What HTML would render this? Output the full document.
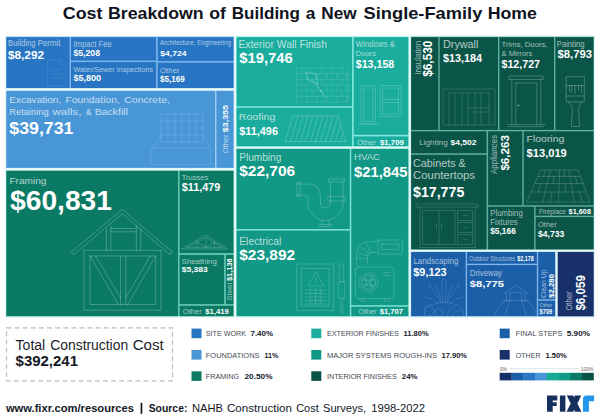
<!DOCTYPE html>
<html><head><meta charset="utf-8"><title>Cost Breakdown of Building a New Single-Family Home</title>
<style>html,body{margin:0;padding:0;background:#fff}body{width:600px;height:418px;overflow:hidden}svg{display:block}text{font-family:"Liberation Sans",sans-serif}</style></head><body>
<svg width="600" height="418" viewBox="0 0 600 418">
<rect width="600" height="418" fill="#ffffff"/>
<rect x="4.9" y="35.6" width="590.2" height="282.2" fill="#e3f8f7"/>
<rect x="6.0" y="36.6" width="227.8" height="51.6" fill="#7db8ee"/>
<rect x="6.0" y="90.7" width="227.8" height="77.3" fill="#a6d2f5"/>
<rect x="6.0" y="170.6" width="227.8" height="145.9" fill="#6fd0bd"/>
<rect x="236.3" y="36.6" width="172.3" height="110.0" fill="#86eadf"/>
<rect x="236.3" y="148.6" width="172.3" height="167.9" fill="#7fe0d2"/>
<rect x="410.9" y="36.6" width="183.0" height="213.0" fill="#62b09e"/>
<rect x="410.9" y="251.8" width="144.5" height="64.7" fill="#7fb4ea"/>
<rect x="557.6" y="251.8" width="36.3" height="64.7" fill="#6a86c0"/>
<rect x="6.4" y="37.2" width="63.2" height="50.8" fill="#2876c3"/>
<rect x="71" y="37.2" width="85.1" height="23.4" fill="#2876c3"/>
<rect x="71" y="62" width="85.1" height="26.0" fill="#2876c3"/>
<rect x="157.7" y="37.2" width="75.8" height="23.9" fill="#2876c3"/>
<rect x="157.7" y="62.6" width="75.8" height="25.4" fill="#2876c3"/>
<rect x="6.4" y="90.9" width="208.7" height="76.9" fill="#4996d7"/>
<rect x="216.4" y="90.9" width="17.1" height="76.9" fill="#4996d7"/>
<rect x="6.4" y="170.8" width="171.7" height="145.3" fill="#0a7a65"/>
<rect x="179.5" y="170.8" width="54.0" height="82.4" fill="#0a7a65"/>
<rect x="179.5" y="254.8" width="44.7" height="49.4" fill="#0a7a65"/>
<rect x="225.7" y="254.8" width="7.8" height="49.4" fill="#0a7a65"/>
<rect x="179.5" y="305.7" width="54.0" height="10.4" fill="#0a7a65"/>
<rect x="236.6" y="37.2" width="115.5" height="69.1" fill="#1aac9d"/>
<rect x="236.6" y="107.8" width="115.5" height="38.4" fill="#1aac9d"/>
<rect x="353.7" y="37.2" width="54.6" height="97.6" fill="#1aac9d"/>
<rect x="353.7" y="136.4" width="54.6" height="9.8" fill="#1aac9d"/>
<rect x="236.6" y="148.9" width="113.2" height="80.1" fill="#119886"/>
<rect x="236.6" y="230.6" width="113.2" height="85.5" fill="#119886"/>
<rect x="351.3" y="148.9" width="57.0" height="156.3" fill="#119886"/>
<rect x="351.3" y="306.7" width="57.0" height="9.4" fill="#119886"/>
<rect x="411.2" y="37.2" width="27.1" height="92.7" fill="#0b5548"/>
<rect x="439.7" y="37.2" width="58.3" height="92.7" fill="#0b5548"/>
<rect x="499.4" y="37.2" width="54.6" height="92.7" fill="#0b5548"/>
<rect x="555.4" y="37.2" width="38.1" height="92.7" fill="#0b5548"/>
<rect x="411.2" y="131.3" width="75.4" height="22.0" fill="#0b5548"/>
<rect x="411.2" y="154.8" width="75.4" height="94.5" fill="#0b5548"/>
<rect x="488.1" y="131.3" width="34.2" height="74.0" fill="#0b5548"/>
<rect x="523.7" y="131.3" width="69.8" height="74.0" fill="#0b5548"/>
<rect x="488.1" y="206.7" width="46.1" height="42.6" fill="#0b5548"/>
<rect x="535.6" y="206.7" width="57.9" height="9.0" fill="#0b5548"/>
<rect x="535.6" y="217.1" width="57.9" height="32.2" fill="#0b5548"/>
<rect x="411.2" y="252" width="54.5" height="64.1" fill="#1b5fa9"/>
<rect x="467.1" y="252" width="69.7" height="11.7" fill="#1b5fa9"/>
<rect x="467.1" y="265.1" width="69.7" height="51.0" fill="#1b5fa9"/>
<rect x="538.2" y="252" width="16.9" height="47.2" fill="#1b5fa9"/>
<rect x="538.2" y="300.7" width="16.9" height="15.4" fill="#1b5fa9"/>
<rect x="557.9" y="252" width="35.6" height="64.1" fill="#18316a"/>
<g fill="none" stroke="rgba(255,255,255,0.26)" stroke-width="0.9" stroke-linejoin="round" stroke-linecap="round">
<path d="M71.4 251.9 L122.2 209.4 L172.2 251.9"/>
<path d="M74 254.6 L122.2 213.6 L169.8 254.6"/>
<path d="M71.4 251.9 L74 254.6 M172.2 251.9 L169.8 254.6"/>
<path d="M84 250.3 H161 M90 256 H155.7"/>
<path d="M84 250.3 V310.2 H161 V250.3"/>
<path d="M90 256 V304.5 H155.7 V256"/>
<path d="M120.6 256 V304.5 M125.8 256 V304.5"/>
<path d="M90 256 L118.5 304.5 M95.5 256 L120.6 298 M155.7 256 L127.8 304.5 M150.2 256 L125.8 298"/>
<path d="M106.4 229 V250.3 M110.9 225.5 V250.3 M136.3 225.5 V250.3 M140.8 229 V250.3"/>
<path d="M110.9 228.5 H136.3 M110.9 231.8 H136.3"/>
</g>
<g fill="none" stroke="rgba(255,255,255,0.24)" stroke-width="0.8" stroke-linejoin="round" stroke-linecap="round">
<path d="M181.8 248.8 L206 235.2 L227 248.8 Z"/>
<path d="M187 247.2 L206 237.6 L222 247.2 Z"/>
<path d="M206 237.6 V247.2 M197 242.3 L206 247.2 L214.5 242.3 M197 242.3 V247.2 M214.5 242.3 V247.2"/>
</g>
<g fill="none" stroke="rgba(255,255,255,0.1)" stroke-width="0.8" stroke-linejoin="round" stroke-linecap="round">
<path d="M48 60 H61 L66 65 V86 H48 Z M61 60 V65 H66 M51 70 H63 M51 74 H63 M51 78 H63"/>
</g>
<g fill="none" stroke="rgba(255,255,255,0.16)" stroke-width="0.8" stroke-linejoin="round" stroke-linecap="round">
<path d="M161 114 V142 M168 114 V142 M175 114 V142 M182 114 V142 M189 114 V142 M196 114 V142 M203 114 V142 M161 114 H203 M161 121 H203 M161 128 H203 M161 135 H203 M161 142 H203"/>
<path d="M161 136 L151.5 147.7 M203 136 L210.5 147.7 M151.5 147.7 H210.5 V164.5 H151.5 Z"/>
</g>
<g fill="none" stroke="rgba(255,255,255,0.15)" stroke-width="0.8" stroke-linejoin="round" stroke-linecap="round">
<path d="M297 68 H348 V102 H297 Z M297 73.7 H348 M297 79.3 H348 M297 85 H348 M297 90.7 H348 M297 96.3 H348 M302 68 V73.7 M312 68 V73.7 M322 68 V73.7 M332 68 V73.7 M342 68 V73.7 M307 73.7 V79.3 M317 73.7 V79.3 M327 73.7 V79.3 M337 73.7 V79.3 M347 73.7 V79.3 M302 79.3 V85 M312 79.3 V85 M322 79.3 V85 M332 79.3 V85 M342 79.3 V85 M307 85 V90.7 M317 85 V90.7 M327 85 V90.7 M337 85 V90.7 M347 85 V90.7 M302 90.7 V96.3 M312 90.7 V96.3 M322 90.7 V96.3 M332 90.7 V96.3 M342 90.7 V96.3 M307 96.3 V102 M317 96.3 V102 M327 96.3 V102 M337 96.3 V102 M347 96.3 V102"/>
</g>
<g fill="none" stroke="rgba(255,255,255,0.28)" stroke-width="0.9" stroke-linejoin="round" stroke-linecap="round">
<path d="M306 72 L316 74 L318 84 L308 80 Z M313 80 L322 92 M320 90 L326 98"/>
</g>
<g fill="none" stroke="rgba(255,255,255,0.24)" stroke-width="0.8" stroke-linejoin="round" stroke-linecap="round">
<path d="M293 116 H338 L346 141.5 H285.5 Z M290.5 141.5 L298.0 116 M295.5 141.5 L303.0 116 M300.5 141.5 L308.0 116 M305.5 141.5 L313.0 116 M310.5 141.5 L318.0 116 M315.5 141.5 L323.0 116 M320.5 141.5 L328.0 116 M325.5 141.5 L333.0 116 M330.5 141.5 L338.0 116 M335.5 141.5 L340.6 124.2 M340.5 141.5 L343.2 132.5 M345.5 141.5 L345.7 140.7"/>
</g>
<g fill="none" stroke="rgba(255,255,255,0.22)" stroke-width="0.8" stroke-linejoin="round" stroke-linecap="round">
<path d="M361.5 85.5 H375.5 V124 H361.5 Z M364 88 H373 V121.5 H364 Z M358.5 124 H378.5"/>
<path d="M380.5 85.5 H401 V116.5 H380.5 Z M383 88 H398.5 V114 H383 Z M383 99.5 H398.5 M383 102.5 H398.5"/>
</g>
<g fill="none" stroke="rgba(255,255,255,0.21)" stroke-width="0.9" stroke-linejoin="round" stroke-linecap="round">
<path d="M330.5 182 V203 M343 182 V203 M328.8 179 H344.7 V182 H328.8 Z M328.3 196.3 H345.2 V201 H328.3 Z"/>
<path d="M343 203 A17.5 17.5 0 0 1 308 203 M330.5 203 A5 5 0 0 1 320.5 203"/>
<path d="M320.5 203 V197 Q320.5 184 308 184 H297 M308 203 V198.5 Q308 195 304 195 H297 M297 182.8 V196.2 M300.2 182.8 V196.2 M297 182.8 H300.2 M297 196.2 H300.2"/>
<path d="M322 220.2 V224.5 M329 220.2 V224.5 M320 224.5 H331 V226.5 H320 Z"/>
</g>
<g fill="none" stroke="rgba(255,255,255,0.19)" stroke-width="0.9" stroke-linejoin="round" stroke-linecap="round">
<rect x="355.5" y="267" width="38.5" height="31.5" rx="3"/>
<circle cx="368.5" cy="282.5" r="9.6"/><circle cx="368.5" cy="282.5" r="7.2"/>
<path d="M361.5 280 H375.5 M361.5 285 H375.5 M366 275.5 V289.5 M371 275.5 V289.5 M363.3 277.3 L373.7 287.7 M373.7 277.3 L363.3 287.7"/>
<path d="M383.5 272.5 H390.5 M383.5 275.5 H390.5 M360 298.5 V301 H364.5 V298.5 M385 298.5 V301 H389.5 V298.5"/>
<path d="M356.5 265 V256 Q356.5 241.5 371 241.5 H378 M367.5 265 V257 Q367.5 252.5 372 252.5 H378"/>
<path d="M357 258 L367 259 M358 252.5 L367.5 256 M361 247 L369 254 M366 243 L371 252.5"/>
<rect x="378" y="240" width="24.5" height="14" rx="1.5"/><rect x="381.5" y="244" width="17.5" height="5.5" rx="1"/>
</g>
<g fill="none" stroke="rgba(255,255,255,0.18)" stroke-width="0.9" stroke-linejoin="round" stroke-linecap="round">
<rect x="297" y="264" width="36.5" height="46.5"/><rect x="301.5" y="268.5" width="27.5" height="37.5"/>
<path d="M316 272 L323.5 286 H308.5 Z M316 276.5 V282"/>
<path d="M305 290 H326 M305 293.5 H326 M305 297 H326 M305 300.5 H326 M305 304 H326 M310.2 290 V304 M315.5 290 V304 M320.8 290 V304"/>
<path d="M339.7 264 H343.7 V282 H339.7 Z M338.7 282 H344.7 V298 H338.7 Z M340.7 298 V313 H342.7 V298"/>
</g>
<g fill="none" stroke="rgba(255,255,255,0.17)" stroke-width="0.8" stroke-linejoin="round" stroke-linecap="round">
<path d="M443.5 89 H495 V125 H443.5 Z M449 93 V125 M455 93 V125 M449 93 H489 M462 93 V125 M468 93 V125 M475 93 V125 M481 93 V125 M489 93 V125 M468 108 H489 M475 112 H489"/>
</g>
<g fill="none" stroke="rgba(255,255,255,0.24)" stroke-width="0.9" stroke-linejoin="round" stroke-linecap="round">
<path d="M509.5 76 H543 V79.5 H509.5 Z M511.8 79.5 V124.6 M540.8 79.5 V124.6 M507 124.6 H545.5 M508.5 126.6 H544 M515.8 83 H536.8 V124.6 M515.8 83 V124.6"/>
<circle cx="518.3" cy="105.5" r="0.9"/>
</g>
<g fill="none" stroke="rgba(255,255,255,0.26)" stroke-width="0.9" stroke-linejoin="round" stroke-linecap="round">
<path d="M566.5 76.7 H584.3 V102 H566.5 Z M566.5 85.5 H584.3 M566.5 96 H584.3 M569.5 85.5 V91 Q570.7 93 571.9 91 V85.5 M575 85.5 V93.5 M578.5 85.5 V90 M581.5 85.5 V92"/>
<path d="M568.5 102 Q572.5 105 572.3 111 L571.2 126.5 H579.6 L578.5 111 Q578.3 105 582.3 102"/>
</g>
<g fill="none" stroke="rgba(255,255,255,0.19)" stroke-width="0.8" stroke-linejoin="round" stroke-linecap="round">
<path d="M416.5 204 H478 V207 H416.5 Z M420 207 V247.5 M475 207 V247.5 M420 247.5 H475"/>
<path d="M423 210.5 H455 V244.5 H423 Z M439 210.5 V244.5 M436.5 224 V230 M441.5 224 V230"/>
<path d="M458 210.5 H472.5 V220.5 H458 Z M458 222.5 H472.5 V232.5 H458 Z M458 234.5 H472.5 V244.5 H458 Z M463.5 215.5 H467 M463.5 227.5 H467 M463.5 239.5 H467"/>
</g>
<g fill="none" stroke="rgba(255,255,255,0.2)" stroke-width="0.8" stroke-linejoin="round" stroke-linecap="round">
<path d="M541.0 170 L578.0 170 L590.0 202 L527.0 202 Z M538.2 176.5 L580.4 176.5 M535.1 183.5 L583.1 183.5 M531.4 192 L586.2 192 M550.2 170 L542.8 202 M559.5 170 L558.5 202 M568.8 170 L574.2 202 M545.6 170 L543.4 176.5 M564.1 170 L564.6 176.5 M554.0 176.5 L553.1 183.5 M575.2 176.5 L577.1 183.5 M541.1 183.5 L538.2 192 M565.1 183.5 L565.7 192 M552.0 192 L550.6 202 M579.4 192 L582.1 202"/>
</g>
<g fill="none" stroke="rgba(255,255,255,0.12)" stroke-width="1.0" stroke-linejoin="round" stroke-linecap="round">
<path d="M443 303 Q441 290 442 281 M445 303 Q447 290 446 281 M441 303 Q436 292 430 287 M447 303 Q452 292 458 287 M439.5 304 Q432 298 425 297 M448.5 304 Q456 298 463 297"/>
<path d="M442 281 L444 278.5 L446 281 M430 287 L428.5 284.5 M458 287 L459.5 284.5 M436 285 Q438 292 441.5 300 M452 285 Q450 292 446.5 300"/>
<path d="M424 316 Q424 304 435 304 Q444 300 453 304 Q464 304 464 316"/>
<circle cx="429" cy="311" r="5.2"/><circle cx="439" cy="312.5" r="4"/><path d="M447 316 Q449 307 456 306 M452 316 Q455 310 461 310"/>
</g>
<g fill="none" stroke="rgba(255,255,255,0.17)" stroke-width="0.9" stroke-linejoin="round" stroke-linecap="round">
<path d="M503.5 294 L515.8 285.4 L528 294 M506.5 292 V300.5 M525 292 V300.5 M509.8 300.5 V292.5 H521.8 V300.5"/>
<path d="M506.5 300.5 Q498 304 494.5 316 M525 300.5 Q533 304 536.3 314 M509.8 300.5 L505 316 M521.8 300.5 L526.5 316 M503 300.5 H528.5"/>
</g>
<text x="62.8" y="19.45" font-size="17.32" font-weight="700" fill="#0f1320" textLength="39.7" lengthAdjust="spacingAndGlyphs">Cost</text>
<text x="108" y="19.45" font-size="17.32" font-weight="700" fill="#0f1320" textLength="95.6" lengthAdjust="spacingAndGlyphs">Breakdown</text>
<text x="209.2" y="19.45" font-size="17.32" font-weight="700" fill="#0f1320" textLength="16.7" lengthAdjust="spacingAndGlyphs">of</text>
<text x="231.7" y="19.45" font-size="17.32" font-weight="700" fill="#0f1320" textLength="68.3" lengthAdjust="spacingAndGlyphs">Building</text>
<text x="305.7" y="19.45" font-size="17.32" font-weight="700" fill="#0f1320" textLength="9.6" lengthAdjust="spacingAndGlyphs">a</text>
<text x="321.3" y="19.45" font-size="17.32" font-weight="700" fill="#0f1320" textLength="35.4" lengthAdjust="spacingAndGlyphs">New</text>
<text x="363.6" y="19.45" font-size="17.32" font-weight="700" fill="#0f1320" textLength="118.7" lengthAdjust="spacingAndGlyphs">Single-Family</text>
<text x="487.7" y="19.45" font-size="17.32" font-weight="700" fill="#0f1320" textLength="49.3" lengthAdjust="spacingAndGlyphs">Home</text>
<text x="8" y="45.7" font-size="8.38" font-weight="400" fill="rgba(255,255,255,0.62)" textLength="52.3" lengthAdjust="spacingAndGlyphs">Building Permit</text>
<text x="8" y="59" font-size="11.17" font-weight="700" fill="#ffffff" textLength="36.0" lengthAdjust="spacingAndGlyphs">$8,292</text>
<text x="73.4" y="46.5" font-size="8.80" font-weight="400" fill="rgba(255,255,255,0.62)" textLength="38.4" lengthAdjust="spacingAndGlyphs">Impact Fee</text>
<text x="73.4" y="55.8" font-size="8.52" font-weight="700" fill="#ffffff" textLength="26.6" lengthAdjust="spacingAndGlyphs">$5,208</text>
<text x="73.4" y="71.6" font-size="8.10" font-weight="400" fill="rgba(255,255,255,0.62)" textLength="79.6" lengthAdjust="spacingAndGlyphs">Water/Sewer Inspections</text>
<text x="73.4" y="80.9" font-size="8.38" font-weight="700" fill="#ffffff" textLength="27.6" lengthAdjust="spacingAndGlyphs">$5,800</text>
<text x="160" y="45.2" font-size="7.40" font-weight="400" fill="rgba(255,255,255,0.62)" textLength="71.0" lengthAdjust="spacingAndGlyphs">Architecture, Engineering</text>
<text x="160.3" y="55.6" font-size="7.82" font-weight="700" fill="#ffffff" textLength="26.1" lengthAdjust="spacingAndGlyphs">$4,724</text>
<text x="160" y="73.4" font-size="7.82" font-weight="400" fill="rgba(255,255,255,0.62)" textLength="19.6" lengthAdjust="spacingAndGlyphs">Other</text>
<text x="160" y="82.2" font-size="8.80" font-weight="700" fill="#ffffff" textLength="24.7" lengthAdjust="spacingAndGlyphs">$5,169</text>
<text x="9.2" y="103.2" font-size="9.92" font-weight="400" fill="rgba(255,255,255,0.70)" textLength="52.1" lengthAdjust="spacingAndGlyphs">Excavation,</text>
<text x="65.4" y="103.2" font-size="9.92" font-weight="400" fill="rgba(255,255,255,0.70)" textLength="54.4" lengthAdjust="spacingAndGlyphs">Foundation,</text>
<text x="124.2" y="103.2" font-size="9.92" font-weight="400" fill="rgba(255,255,255,0.70)" textLength="45.8" lengthAdjust="spacingAndGlyphs">Concrete,</text>
<text x="9.2" y="114.7" font-size="9.92" font-weight="400" fill="rgba(255,255,255,0.70)" textLength="39.6" lengthAdjust="spacingAndGlyphs">Retaining</text>
<text x="52.4" y="114.7" font-size="9.92" font-weight="400" fill="rgba(255,255,255,0.70)" textLength="29.0" lengthAdjust="spacingAndGlyphs">walls,</text>
<text x="86" y="114.7" font-size="9.92" font-weight="400" fill="rgba(255,255,255,0.70)" textLength="5.6" lengthAdjust="spacingAndGlyphs">&amp;</text>
<text x="94.8" y="114.7" font-size="9.92" font-weight="400" fill="rgba(255,255,255,0.70)" textLength="33.2" lengthAdjust="spacingAndGlyphs">Backfill</text>
<text x="9.3" y="134.4" font-size="16.20" font-weight="700" fill="#ffffff" textLength="64.2" lengthAdjust="spacingAndGlyphs">$39,731</text>
<text x="9.4" y="184.2" font-size="9.50" font-weight="400" fill="rgba(255,255,255,0.70)" textLength="37.0" lengthAdjust="spacingAndGlyphs">Framing</text>
<text x="10" y="210.3" font-size="26.96" font-weight="700" fill="#ffffff" textLength="102.0" lengthAdjust="spacingAndGlyphs">$60,831</text>
<text x="181.8" y="179.5" font-size="7.68" font-weight="400" fill="rgba(255,255,255,0.62)" textLength="26.5" lengthAdjust="spacingAndGlyphs">Trusses</text>
<text x="181.8" y="191.2" font-size="10.75" font-weight="700" fill="#ffffff" textLength="38.4" lengthAdjust="spacingAndGlyphs">$11,479</text>
<text x="181.7" y="263.5" font-size="7.40" font-weight="400" fill="rgba(255,255,255,0.62)" textLength="35.1" lengthAdjust="spacingAndGlyphs">Sheathing</text>
<text x="181.7" y="272.2" font-size="7.54" font-weight="700" fill="#ffffff" textLength="26.1" lengthAdjust="spacingAndGlyphs">$5,383</text>
<text x="182.8" y="314.4" font-size="7.96" font-weight="400" fill="rgba(255,255,255,0.62)" textLength="19.1" lengthAdjust="spacingAndGlyphs">Other</text>
<text x="205.2" y="314.4" font-size="7.96" font-weight="700" fill="#ffffff" textLength="23.6" lengthAdjust="spacingAndGlyphs">$1,419</text>
<text x="238.4" y="47.7" font-size="11.17" font-weight="400" fill="rgba(255,255,255,0.70)" textLength="88.6" lengthAdjust="spacingAndGlyphs">Exterior Wall Finish</text>
<text x="239.2" y="63.3" font-size="13.97" font-weight="700" fill="#ffffff" textLength="53.5" lengthAdjust="spacingAndGlyphs">$19,746</text>
<text x="238.8" y="119.7" font-size="9.78" font-weight="400" fill="rgba(255,255,255,0.70)" textLength="36.5" lengthAdjust="spacingAndGlyphs">Roofing</text>
<text x="239.2" y="134.6" font-size="10.61" font-weight="700" fill="#ffffff" textLength="38.8" lengthAdjust="spacingAndGlyphs">$11,496</text>
<text x="355.8" y="47" font-size="8.80" font-weight="400" fill="rgba(255,255,255,0.62)" textLength="39.2" lengthAdjust="spacingAndGlyphs">Windows &amp;</text>
<text x="355.8" y="55.8" font-size="7.68" font-weight="400" fill="rgba(255,255,255,0.62)" textLength="20.1" lengthAdjust="spacingAndGlyphs">Doors</text>
<text x="355.8" y="67.8" font-size="11.17" font-weight="700" fill="#ffffff" textLength="38.4" lengthAdjust="spacingAndGlyphs">$13,158</text>
<text x="357.3" y="144.7" font-size="7.96" font-weight="400" fill="rgba(255,255,255,0.62)" textLength="18.7" lengthAdjust="spacingAndGlyphs">Other</text>
<text x="380" y="144.7" font-size="7.96" font-weight="700" fill="#ffffff" textLength="23.8" lengthAdjust="spacingAndGlyphs">$1,709</text>
<text x="239.2" y="161" font-size="10.20" font-weight="400" fill="rgba(255,255,255,0.70)" textLength="42.2" lengthAdjust="spacingAndGlyphs">Plumbing</text>
<text x="239.2" y="176" font-size="13.97" font-weight="700" fill="#ffffff" textLength="56.0" lengthAdjust="spacingAndGlyphs">$22,706</text>
<text x="354" y="160.3" font-size="9.92" font-weight="400" fill="rgba(255,255,255,0.70)" textLength="26.0" lengthAdjust="spacingAndGlyphs">HVAC</text>
<text x="354" y="176.6" font-size="13.97" font-weight="700" fill="#ffffff" textLength="53.5" lengthAdjust="spacingAndGlyphs">$21,845</text>
<text x="239.2" y="244.7" font-size="10.75" font-weight="400" fill="rgba(255,255,255,0.70)" textLength="42.0" lengthAdjust="spacingAndGlyphs">Electrical</text>
<text x="239.2" y="260.3" font-size="14.11" font-weight="700" fill="#ffffff" textLength="56.0" lengthAdjust="spacingAndGlyphs">$23,892</text>
<text x="358.5" y="314.4" font-size="7.82" font-weight="400" fill="rgba(255,255,255,0.62)" textLength="18.3" lengthAdjust="spacingAndGlyphs">Other</text>
<text x="379.7" y="314.4" font-size="7.82" font-weight="700" fill="#ffffff" textLength="23.2" lengthAdjust="spacingAndGlyphs">$1,707</text>
<text x="443" y="47.7" font-size="10.47" font-weight="400" fill="rgba(255,255,255,0.70)" textLength="35.4" lengthAdjust="spacingAndGlyphs">Drywall</text>
<text x="443" y="61.6" font-size="11.59" font-weight="700" fill="#ffffff" textLength="39.0" lengthAdjust="spacingAndGlyphs">$13,184</text>
<text x="501.5" y="46.5" font-size="8.10" font-weight="400" fill="rgba(255,255,255,0.62)" textLength="46.0" lengthAdjust="spacingAndGlyphs">Trims, Doors,</text>
<text x="501.5" y="55.8" font-size="7.68" font-weight="400" fill="rgba(255,255,255,0.62)" textLength="30.9" lengthAdjust="spacingAndGlyphs">&amp; Mirrors</text>
<text x="501.5" y="68.3" font-size="11.17" font-weight="700" fill="#ffffff" textLength="38.5" lengthAdjust="spacingAndGlyphs">$12,727</text>
<text x="556.8" y="46.5" font-size="8.80" font-weight="400" fill="rgba(255,255,255,0.62)" textLength="27.6" lengthAdjust="spacingAndGlyphs">Painting</text>
<text x="557.5" y="58.3" font-size="11.17" font-weight="700" fill="#ffffff" textLength="34.5" lengthAdjust="spacingAndGlyphs">$8,793</text>
<text x="419.3" y="145.2" font-size="7.96" font-weight="400" fill="rgba(255,255,255,0.62)" textLength="28.4" lengthAdjust="spacingAndGlyphs">Lighting</text>
<text x="450.5" y="145.2" font-size="7.96" font-weight="700" fill="#ffffff" textLength="25.9" lengthAdjust="spacingAndGlyphs">$4,502</text>
<text x="413" y="167.3" font-size="10.47" font-weight="400" fill="rgba(255,255,255,0.70)" textLength="52.8" lengthAdjust="spacingAndGlyphs">Cabinets &amp;</text>
<text x="413" y="179" font-size="10.34" font-weight="400" fill="rgba(255,255,255,0.70)" textLength="62.0" lengthAdjust="spacingAndGlyphs">Countertops</text>
<text x="413" y="196.7" font-size="13.97" font-weight="700" fill="#ffffff" textLength="51.3" lengthAdjust="spacingAndGlyphs">$17,775</text>
<text x="526.6" y="142.4" font-size="9.78" font-weight="400" fill="rgba(255,255,255,0.70)" textLength="37.7" lengthAdjust="spacingAndGlyphs">Flooring</text>
<text x="526.6" y="157.3" font-size="10.61" font-weight="700" fill="#ffffff" textLength="40.2" lengthAdjust="spacingAndGlyphs">$13,019</text>
<text x="490.2" y="215.5" font-size="8.52" font-weight="400" fill="rgba(255,255,255,0.62)" textLength="32.6" lengthAdjust="spacingAndGlyphs">Plumbing</text>
<text x="490.2" y="224.8" font-size="8.24" font-weight="400" fill="rgba(255,255,255,0.62)" textLength="27.5" lengthAdjust="spacingAndGlyphs">Fixtures</text>
<text x="490.2" y="233.9" font-size="8.24" font-weight="700" fill="#ffffff" textLength="25.6" lengthAdjust="spacingAndGlyphs">$5,166</text>
<text x="539" y="214" font-size="7.12" font-weight="400" fill="rgba(255,255,255,0.62)" textLength="27.0" lengthAdjust="spacingAndGlyphs">Fireplace</text>
<text x="568.6" y="214" font-size="7.12" font-weight="700" fill="#ffffff" textLength="22.4" lengthAdjust="spacingAndGlyphs">$1,608</text>
<text x="538" y="227" font-size="7.96" font-weight="400" fill="rgba(255,255,255,0.62)" textLength="18.8" lengthAdjust="spacingAndGlyphs">Other</text>
<text x="538" y="237" font-size="8.38" font-weight="700" fill="#ffffff" textLength="26.2" lengthAdjust="spacingAndGlyphs">$4,733</text>
<text x="413.4" y="263.9" font-size="8.52" font-weight="400" fill="rgba(255,255,255,0.62)" textLength="44.9" lengthAdjust="spacingAndGlyphs">Landscaping</text>
<text x="413.3" y="276" font-size="10.06" font-weight="700" fill="#ffffff" textLength="33.3" lengthAdjust="spacingAndGlyphs">$9,123</text>
<text x="469.3" y="260.5" font-size="6.28" font-weight="400" fill="rgba(255,255,255,0.62)" textLength="45.7" lengthAdjust="spacingAndGlyphs">Outdoor Structures</text>
<text x="517.3" y="260.5" font-size="6.28" font-weight="700" fill="#ffffff" textLength="16.3" lengthAdjust="spacingAndGlyphs">$2,178</text>
<text x="469.8" y="276" font-size="8.38" font-weight="400" fill="rgba(255,255,255,0.62)" textLength="32.2" lengthAdjust="spacingAndGlyphs">Driveway</text>
<text x="469.8" y="287.3" font-size="9.92" font-weight="700" fill="#ffffff" textLength="34.2" lengthAdjust="spacingAndGlyphs">$8,775</text>
<text x="539.8" y="306.8" font-size="5.59" font-weight="400" fill="rgba(255,255,255,0.62)" textLength="12.4" lengthAdjust="spacingAndGlyphs">Other</text>
<text x="539.6" y="314.4" font-size="6.56" font-weight="700" fill="#ffffff" textLength="12.7" lengthAdjust="spacingAndGlyphs">$709</text>
<text x="15.6" y="350" font-size="13.97" font-weight="400" fill="#1b1f2a" textLength="29.6" lengthAdjust="spacingAndGlyphs">Total</text>
<text x="50.3" y="350" font-size="13.97" font-weight="400" fill="#1b1f2a" textLength="77.8" lengthAdjust="spacingAndGlyphs">Construction</text>
<text x="132.7" y="350" font-size="13.97" font-weight="400" fill="#1b1f2a" textLength="31.1" lengthAdjust="spacingAndGlyphs">Cost</text>
<text x="15.6" y="366" font-size="13.97" font-weight="700" fill="#14171f" textLength="62.4" lengthAdjust="spacingAndGlyphs">$392,241</text>
<text x="5.9" y="412" font-size="10.89" font-weight="700" fill="#14171f" textLength="128.1" lengthAdjust="spacingAndGlyphs">www.fixr.com/resources</text>
<text x="148.7" y="412" font-size="10.89" font-weight="700" fill="#14171f" textLength="38.7" lengthAdjust="spacingAndGlyphs">Source:</text>
<text x="192" y="412" font-size="10.89" font-weight="400" fill="#14171f" textLength="31.0" lengthAdjust="spacingAndGlyphs">NAHB</text>
<text x="227" y="412" font-size="10.89" font-weight="400" fill="#14171f" textLength="65.0" lengthAdjust="spacingAndGlyphs">Construction</text>
<text x="296.2" y="412" font-size="10.89" font-weight="400" fill="#14171f" textLength="22.6" lengthAdjust="spacingAndGlyphs">Cost</text>
<text x="323" y="412" font-size="10.89" font-weight="400" fill="#14171f" textLength="43.2" lengthAdjust="spacingAndGlyphs">Surveys,</text>
<text x="371.2" y="412" font-size="10.89" font-weight="400" fill="#14171f" textLength="53.8" lengthAdjust="spacingAndGlyphs">1998-2022</text>
<text transform="translate(228,153.3) rotate(-90)" x="0" y="0" font-size="8.10" font-weight="400" fill="rgba(255,255,255,0.6)" textLength="18.8" lengthAdjust="spacingAndGlyphs">Other</text>
<text transform="translate(228,132.2) rotate(-90)" x="0" y="0" font-size="8.10" font-weight="700" fill="#ffffff" textLength="27.2" lengthAdjust="spacingAndGlyphs">$3,355</text>
<text transform="translate(420.5,74.8) rotate(-90)" x="0" y="0" font-size="8.24" font-weight="400" fill="rgba(255,255,255,0.6)" textLength="34.0" lengthAdjust="spacingAndGlyphs">Insulation</text>
<text transform="translate(432,76.8) rotate(-90)" x="0" y="0" font-size="12.57" font-weight="700" fill="#ffffff" textLength="36.2" lengthAdjust="spacingAndGlyphs">$6,530</text>
<text transform="translate(496.8,174) rotate(-90)" x="0" y="0" font-size="8.38" font-weight="400" fill="rgba(255,255,255,0.6)" textLength="39.0" lengthAdjust="spacingAndGlyphs">Appliances</text>
<text transform="translate(508.9,170.6) rotate(-90)" x="0" y="0" font-size="11.31" font-weight="700" fill="#ffffff" textLength="35.6" lengthAdjust="spacingAndGlyphs">$6,263</text>
<text transform="translate(231.9,300.6) rotate(-90)" x="0" y="0" font-size="7.96" font-weight="400" fill="rgba(255,255,255,0.6)" textLength="17.8" lengthAdjust="spacingAndGlyphs">Steel</text>
<text transform="translate(231.9,281) rotate(-90)" x="0" y="0" font-size="7.96" font-weight="700" fill="#ffffff" textLength="22.6" lengthAdjust="spacingAndGlyphs">$1,136</text>
<text transform="translate(545.5,297.9) rotate(-90)" x="0" y="0" font-size="7.96" font-weight="400" fill="rgba(255,255,255,0.6)" textLength="28.4" lengthAdjust="spacingAndGlyphs">Clean Up</text>
<text transform="translate(553.8,297.9) rotate(-90)" x="0" y="0" font-size="7.68" font-weight="700" fill="#ffffff" textLength="23.9" lengthAdjust="spacingAndGlyphs">$2,280</text>
<text transform="translate(572.3,310.6) rotate(-90)" x="0" y="0" font-size="8.38" font-weight="400" fill="rgba(255,255,255,0.6)" textLength="19.1" lengthAdjust="spacingAndGlyphs">Other</text>
<text transform="translate(584.8,310.6) rotate(-90)" x="0" y="0" font-size="12.01" font-weight="700" fill="#ffffff" textLength="35.6" lengthAdjust="spacingAndGlyphs">$6,059</text>
<rect x="140.6" y="402.8" width="1.7" height="11" fill="#14171f"/>
<rect x="6.5" y="327.8" width="166" height="53" fill="none" stroke="#bcbcbc" stroke-width="1.2" stroke-dasharray="5 3.1"/>
<rect x="191.5" y="328.6" width="10" height="9.6" fill="#2876c3"/>
<text x="205.8" y="336.1" font-size="7.6" fill="#454a52" textLength="40.2" lengthAdjust="spacingAndGlyphs">SITE WORK</text>
<text x="250.5" y="336.1" font-size="7.6" font-weight="700" fill="#14171f" textLength="22.5" lengthAdjust="spacingAndGlyphs">7.40%</text>
<rect x="191.5" y="350" width="10" height="9.6" fill="#4996d7"/>
<text x="205.8" y="357.5" font-size="7.6" fill="#454a52" textLength="53.7" lengthAdjust="spacingAndGlyphs">FOUNDATIONS</text>
<text x="264.5" y="357.5" font-size="7.6" font-weight="700" fill="#14171f" textLength="13.8" lengthAdjust="spacingAndGlyphs">11%</text>
<rect x="191.5" y="371.3" width="10" height="9.6" fill="#0a7a65"/>
<text x="205.8" y="378.8" font-size="7.6" fill="#454a52" textLength="33.2" lengthAdjust="spacingAndGlyphs">FRAMING</text>
<text x="244.5" y="378.8" font-size="7.6" font-weight="700" fill="#14171f" textLength="28.0" lengthAdjust="spacingAndGlyphs">20.50%</text>
<rect x="311.3" y="328.6" width="10" height="9.6" fill="#1aac9d"/>
<text x="327" y="336.1" font-size="7.6" fill="#454a52" textLength="71.7" lengthAdjust="spacingAndGlyphs">EXTERIOR FINISHES</text>
<text x="403.5" y="336.1" font-size="7.6" font-weight="700" fill="#14171f" textLength="25.1" lengthAdjust="spacingAndGlyphs">11.80%</text>
<rect x="311.3" y="350" width="10" height="9.6" fill="#119886"/>
<text x="327" y="357.5" font-size="7.6" fill="#454a52" textLength="110.0" lengthAdjust="spacingAndGlyphs">MAJOR SYSTEMS ROUGH-INS</text>
<text x="441.5" y="357.5" font-size="7.6" font-weight="700" fill="#14171f" textLength="25.5" lengthAdjust="spacingAndGlyphs">17.90%</text>
<rect x="311.3" y="371.3" width="10" height="9.6" fill="#0b5548"/>
<text x="327" y="378.8" font-size="7.6" fill="#454a52" textLength="69.7" lengthAdjust="spacingAndGlyphs">INTERIOR FINISHES</text>
<text x="401.8" y="378.8" font-size="7.6" font-weight="700" fill="#14171f" textLength="15.8" lengthAdjust="spacingAndGlyphs">24%</text>
<rect x="499.7" y="328.6" width="10" height="9.6" fill="#1b5fa9"/>
<text x="515.8" y="336.1" font-size="7.6" fill="#454a52" textLength="46.5" lengthAdjust="spacingAndGlyphs">FINAL STEPS</text>
<text x="566.8" y="336.1" font-size="7.6" font-weight="700" fill="#14171f" textLength="23.2" lengthAdjust="spacingAndGlyphs">5.90%</text>
<rect x="499.7" y="350" width="10" height="9.6" fill="#18316a"/>
<text x="515.8" y="357.5" font-size="7.6" fill="#454a52" textLength="24.7" lengthAdjust="spacingAndGlyphs">OTHER</text>
<text x="545.5" y="357.5" font-size="7.6" font-weight="700" fill="#14171f" textLength="21.3" lengthAdjust="spacingAndGlyphs">1.50%</text>
<text x="499.7" y="370.5" font-size="5" fill="#666">0%</text>
<text x="593.5" y="370.5" font-size="5" fill="#666" text-anchor="end">100%</text>
<line x1="509" y1="368.6" x2="579" y2="368.6" stroke="#cfd3d6" stroke-width="0.6"/>
<rect x="499.70" y="372.8" width="12.03" height="7.6" fill="#162f66"/>
<rect x="511.43" y="372.8" width="12.03" height="7.6" fill="#1b5fa9"/>
<rect x="523.15" y="372.8" width="12.03" height="7.6" fill="#2a76c3"/>
<rect x="534.88" y="372.8" width="12.03" height="7.6" fill="#4a95d8"/>
<rect x="546.60" y="372.8" width="12.03" height="7.6" fill="#19a999"/>
<rect x="558.33" y="372.8" width="12.03" height="7.6" fill="#129a88"/>
<rect x="570.05" y="372.8" width="12.03" height="7.6" fill="#0b7c67"/>
<rect x="581.77" y="372.8" width="12.03" height="7.6" fill="#0a5447"/>
<path fill="#15305f" d="M547 395.5 H557.3 V400.4 H552.7 V402.2 H556.7 V406.1 H552.7 V411.7 H547 Z"/>
<rect fill="#15305f" x="559.9" y="395.5" width="5.5" height="16.2"/>
<path fill="#15305f" d="M566.8 395.5 H573.3 L574.1 397.6 L574.9 395.5 H581.2 L577.4 403.5 L581.4 411.7 H574.9 L574.1 409.4 L573.3 411.7 H566.6 L570.7 403.5 Z"/>
<path fill="#2196ea" d="M583 411.7 V399 Q583 395.5 586.5 395.5 H594.1 V401.2 H588.9 V411.7 Z"/>
</svg></body></html>
